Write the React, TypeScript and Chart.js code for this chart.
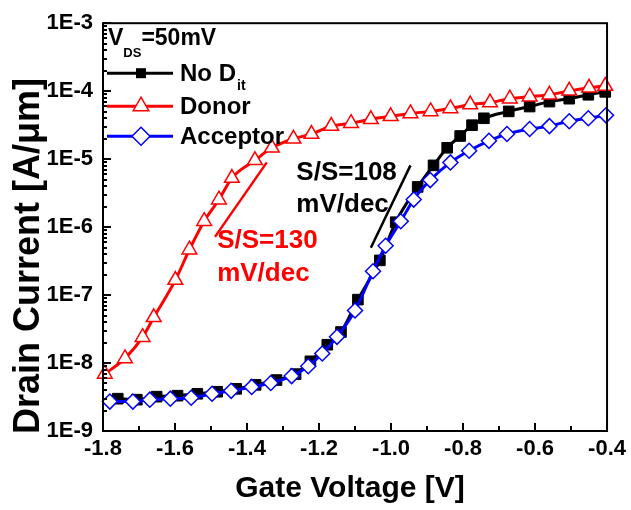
import React, { useEffect, useRef } from "react";
import { Chart, registerables } from "chart.js";

Chart.register(...registerables);

const FONT = '"Liberation Sans", Arial, Helvetica, sans-serif';

// ---- data (gate voltage [V], drain current [A/um]) ----
const noDitV = [-1.759, -1.706, -1.651, -1.593, -1.538, -1.483, -1.43, -1.376, -1.318, -1.265, -1.224, -1.177, -1.139, -1.092, -1.031, -0.987, -0.926, -0.882, -0.844, -0.808, -0.775, -0.742, -0.673, -0.615, -0.56, -0.505, -0.452, -0.405];
const noDitI = [2.99e-9, 2.89e-9, 3.2e-9, 3.31e-9, 3.53e-9, 3.78e-9, 4.17e-9, 4.77e-9, 5.62e-9, 6.87e-9, 1.06e-8, 1.86e-8, 2.86e-8, 8.57e-8, 3.24e-7, 1.18e-6, 3.9e-6, 8.1e-6, 1.47e-5, 2.19e-5, 3.16e-5, 3.99e-5, 5.04e-5, 5.94e-5, 7.02e-5, 7.75e-5, 8.85e-5, 9.77e-5];

const donorV = [-1.795, -1.739, -1.69, -1.659, -1.599, -1.56, -1.519, -1.478, -1.442, -1.378, -1.331, -1.271, -1.221, -1.166, -1.111, -1.056, -1.001, -0.946, -0.89, -0.835, -0.78, -0.725, -0.67, -0.615, -0.56, -0.505, -0.45, -0.405];
const donorI = [6.9e-9, 1.17e-8, 2.4e-8, 4.7e-8, 1.66e-7, 4.65e-7, 1.22e-6, 2.53e-6, 5.26e-6, 9.6e-6, 1.47e-5, 1.99e-5, 2.34e-5, 3.06e-5, 3.38e-5, 3.86e-5, 4.26e-5, 4.71e-5, 5.04e-5, 5.56e-5, 6.35e-5, 6.8e-5, 7.75e-5, 8.3e-5, 8.85e-5, 1.01e-4, 1.12e-4, 1.19e-4];

const accV = [-1.781, -1.717, -1.67, -1.613, -1.555, -1.497, -1.444, -1.387, -1.334, -1.276, -1.23, -1.191, -1.15, -1.1, -1.05, -1.015, -0.973, -0.937, -0.891, -0.835, -0.783, -0.728, -0.678, -0.615, -0.56, -0.505, -0.452, -0.403];
const accI = [2.71e-9, 2.71e-9, 2.89e-9, 2.99e-9, 3.09e-9, 3.53e-9, 3.9e-9, 4.45e-9, 5.09e-9, 6.43e-9, 8.96e-9, 1.38e-8, 2.43e-8, 5.94e-8, 2.24e-7, 5.32e-7, 1.22e-6, 2.54e-6, 4.92e-6, 8.95e-6, 1.33e-5, 1.86e-5, 2.34e-5, 2.77e-5, 3.06e-5, 3.61e-5, 3.99e-5, 4.41e-5];

// ---- axes ----
const xMin = -1.8;
const xMax = -0.4;
const xTickValues = [-1.8, -1.6, -1.4, -1.2, -1.0, -0.8, -0.6, -0.4];
const xMinorValues = [-1.7, -1.5, -1.3, -1.1, -0.9, -0.7, -0.5];
const yDecades = [-9, -8, -7, -6, -5, -4, -3];

// ---- texts ----
const xTitle = "Gate Voltage [V]";
const yTitle = "Drain Current [A/\u03bcm]";
const biasMain = "V";
const biasSub = "DS";
const biasRest = "=50mV";
const legendMain = ["No D", "Donor", "Acceptor"];
const legendSub = ["it", "", ""];
const seriesColors = ["#000000", "#FF0000", "#0000FF"];

// ---- subthreshold slope annotations (data coords) ----
const donorSlopeV = [-1.489, -1.345];
const donorSlopeI = [7.18e-7, 8.95e-6];
const donorSlopeText = ["S/S=130", "mV/dec"];
const donorTextV = -1.483;
const donorTextI = [4.98e-7, 1.61e-7];

const noDitSlopeV = [-1.056, -0.946];
const noDitSlopeI = [4.98e-7, 8.1e-6];
const noDitSlopeText = ["S/S=108", "mV/dec"];
const noDitTextV = -1.263;
const noDitTextI = [4.92e-6, 1.64e-6];

function toXY(v: number[], i: number[]) {
  return v.map((x, k) => ({ x, y: i[k] }));
}

function drawMarker(ctx: CanvasRenderingContext2D, kind: number, cx: number, cy: number) {
  ctx.save();
  if (kind === 0) {
    ctx.fillStyle = "#000";
    ctx.fillRect(cx - 5, cy - 5, 10, 10);
  } else if (kind === 1) {
    const r = 9;
    ctx.beginPath();
    for (let k = 0; k < 3; k++) {
      const a = (k * 2 * Math.PI) / 3;
      const px = cx + Math.sin(a) * r;
      const py = cy - Math.cos(a) * r;
      if (k === 0) ctx.moveTo(px, py);
      else ctx.lineTo(px, py);
    }
    ctx.closePath();
    ctx.fillStyle = "#fff";
    ctx.fill();
    ctx.strokeStyle = seriesColors[1];
    ctx.lineWidth = 1.5;
    ctx.stroke();
  } else {
    const r = 9;
    ctx.beginPath();
    ctx.moveTo(cx, cy - r);
    ctx.lineTo(cx + r, cy);
    ctx.lineTo(cx, cy + r);
    ctx.lineTo(cx - r, cy);
    ctx.closePath();
    ctx.fillStyle = "#fff";
    ctx.fill();
    ctx.strokeStyle = seriesColors[2];
    ctx.lineWidth = 1.5;
    ctx.stroke();
  }
  ctx.restore();
}

const overlayPlugin = {
  id: "overlay",
  afterDraw(chart: any) {
    const { ctx, chartArea: ca, scales } = chart;
    const xs = scales.x;
    const ys = scales.y;
    ctx.save();

    // frame
    ctx.strokeStyle = "#000";
    ctx.lineWidth = 2;
    ctx.strokeRect(ca.left, ca.top, ca.right - ca.left, ca.bottom - ca.top);

    // x ticks (inward)
    ctx.lineWidth = 2;
    ctx.beginPath();
    xTickValues.forEach((v) => {
      const px = Math.round(xs.getPixelForValue(v));
      ctx.moveTo(px, ca.bottom);
      ctx.lineTo(px, ca.bottom - 8);
    });
    xMinorValues.forEach((v) => {
      const px = Math.round(xs.getPixelForValue(v));
      ctx.moveTo(px, ca.bottom);
      ctx.lineTo(px, ca.bottom - 5);
    });
    ctx.stroke();

    // y ticks (inward, log minor)
    ctx.beginPath();
    yDecades.forEach((e, idx) => {
      for (let m = 1; m <= 9; m++) {
        if (idx === yDecades.length - 1 && m > 1) break;
        const py = Math.round(ys.getPixelForValue(m * Math.pow(10, e)));
        const len = m === 1 ? 8 : 4;
        ctx.moveTo(ca.left, py);
        ctx.lineTo(ca.left + len, py);
      }
    });
    ctx.stroke();

    // slope lines
    ctx.lineWidth = 2.5;
    ctx.strokeStyle = seriesColors[1];
    ctx.beginPath();
    ctx.moveTo(xs.getPixelForValue(donorSlopeV[0]), ys.getPixelForValue(donorSlopeI[0]));
    ctx.lineTo(xs.getPixelForValue(donorSlopeV[1]), ys.getPixelForValue(donorSlopeI[1]));
    ctx.stroke();
    ctx.strokeStyle = seriesColors[0];
    ctx.beginPath();
    ctx.moveTo(xs.getPixelForValue(noDitSlopeV[0]), ys.getPixelForValue(noDitSlopeI[0]));
    ctx.lineTo(xs.getPixelForValue(noDitSlopeV[1]), ys.getPixelForValue(noDitSlopeI[1]));
    ctx.stroke();

    // slope texts
    ctx.font = `bold 26px ${FONT}`;
    ctx.textAlign = "left";
    ctx.textBaseline = "alphabetic";
    ctx.fillStyle = seriesColors[1];
    donorSlopeText.forEach((t, k) => {
      ctx.fillText(t, xs.getPixelForValue(donorTextV), ys.getPixelForValue(donorTextI[k]));
    });
    ctx.fillStyle = seriesColors[0];
    noDitSlopeText.forEach((t, k) => {
      ctx.fillText(t, xs.getPixelForValue(noDitTextV), ys.getPixelForValue(noDitTextI[k]));
    });

    // bias label
    const L = ca.left;
    const T = ca.top;
    ctx.fillStyle = "#000";
    ctx.font = `bold 23px ${FONT}`;
    let bx = L + 5;
    ctx.fillText(biasMain, bx, T + 22);
    bx += ctx.measureText(biasMain).width;
    ctx.font = `bold 13px ${FONT}`;
    ctx.fillText(biasSub, bx, T + 34);
    bx += ctx.measureText(biasSub).width;
    ctx.font = `bold 23px ${FONT}`;
    ctx.fillText(biasRest, bx, T + 22);

    // legend
    const rowY = [T + 50, T + 83, T + 113];
    legendMain.forEach((name, k) => {
      const yy = rowY[k];
      ctx.strokeStyle = seriesColors[k];
      ctx.lineWidth = 3;
      ctx.beginPath();
      ctx.moveTo(L + 4, yy);
      ctx.lineTo(L + 70, yy);
      ctx.stroke();
      drawMarker(ctx, k, L + 38, yy);
      ctx.fillStyle = "#000";
      ctx.font = `bold 24px ${FONT}`;
      ctx.fillText(name, L + 77, yy + 8);
      if (legendSub[k]) {
        const w = ctx.measureText(name).width;
        ctx.font = `bold 14px ${FONT}`;
        ctx.fillText(legendSub[k], L + 77 + w + 1, yy + 17);
      }
    });

    // axis titles
    ctx.fillStyle = "#000";
    ctx.font = `bold 30px ${FONT}`;
    ctx.textAlign = "center";
    ctx.fillText(xTitle, (ca.left + ca.right) / 2 - 5, chart.height - 13);

    ctx.translate(39, (ca.top + ca.bottom) / 2 + 29);
    ctx.rotate(-Math.PI / 2);
    ctx.font = `bold 36px ${FONT}`;
    ctx.textAlign = "center";
    ctx.textBaseline = "alphabetic";
    ctx.fillText(yTitle, 0, 0);

    ctx.restore();
  },
};

export default function App() {
  const canvasRef = useRef<HTMLCanvasElement | null>(null);

  useEffect(() => {
    document.body.style.margin = "0";
    document.body.style.overflow = "hidden";
    const canvas = canvasRef.current;
    if (!canvas) return;
    const tickFont = { family: FONT, size: 22, weight: "bold" as const };
    const chart = new Chart(canvas, {
      type: "line",
      data: {
        datasets: [
          {
            label: "No Dit",
            data: toXY(noDitV, noDitI),
            borderColor: seriesColors[0],
            backgroundColor: seriesColors[0],
            borderWidth: 3,
            pointStyle: "rect",
            pointRadius: 7.5,
            pointBorderWidth: 1,
            pointBackgroundColor: seriesColors[0],
            pointBorderColor: seriesColors[0],
            cubicInterpolationMode: "monotone",
            clip: false,
            order: 2,
          },
          {
            label: "Donor",
            data: toXY(donorV, donorI),
            borderColor: seriesColors[1],
            backgroundColor: "#ffffff",
            borderWidth: 3,
            pointStyle: "triangle",
            pointRadius: 8.5,
            pointBorderWidth: 1.5,
            pointBackgroundColor: "#ffffff",
            pointBorderColor: seriesColors[1],
            cubicInterpolationMode: "monotone",
            clip: false,
            order: 1,
          },
          {
            label: "Acceptor",
            data: toXY(accV, accI),
            borderColor: seriesColors[2],
            backgroundColor: "#ffffff",
            borderWidth: 3,
            pointStyle: "rectRot",
            pointRadius: 7.5,
            pointBorderWidth: 1.5,
            pointBackgroundColor: "#ffffff",
            pointBorderColor: seriesColors[2],
            cubicInterpolationMode: "monotone",
            clip: false,
            order: 0,
          },
        ],
      },
      options: {
        responsive: false,
        animation: false,
        devicePixelRatio: 1,
        layout: { padding: { top: 15, right: 20, left: 0, bottom: 0 } },
        plugins: {
          legend: { display: false },
          tooltip: { enabled: false },
          title: { display: false },
        },
        scales: {
          x: {
            type: "linear",
            min: xMin,
            max: xMax,
            afterBuildTicks: (s: any) => {
              s.ticks = xTickValues.map((v) => ({ value: v }));
            },
            afterFit: (s: any) => {
              s.height = 79;
            },
            grid: { display: false, drawTicks: false },
            border: { display: false },
            ticks: {
              autoSkip: false,
              maxRotation: 0,
              minRotation: 0,
              padding: 5,
              color: "#000",
              font: tickFont,
              callback: (v: any) => Number(v).toFixed(1),
            },
          },
          y: {
            type: "logarithmic",
            min: Math.pow(10, yDecades[0]),
            max: Math.pow(10, yDecades[yDecades.length - 1]),
            afterBuildTicks: (s: any) => {
              s.ticks = yDecades.map((e) => ({ value: Math.pow(10, e) }));
            },
            afterFit: (s: any) => {
              s.width = 103;
            },
            grid: { display: false, drawTicks: false },
            border: { display: false },
            ticks: {
              autoSkip: false,
              padding: 10,
              color: "#000",
              font: tickFont,
              callback: (v: any) => "1E" + Math.round(Math.log10(Number(v))),
            },
          },
        },
      },
      plugins: [overlayPlugin],
    });
    return () => chart.destroy();
  }, []);

  return (
    <div style={{ width: 631, height: 510 }}>
      <canvas ref={canvasRef} width={631} height={510} style={{ display: "block" }} />
    </div>
  );
}
